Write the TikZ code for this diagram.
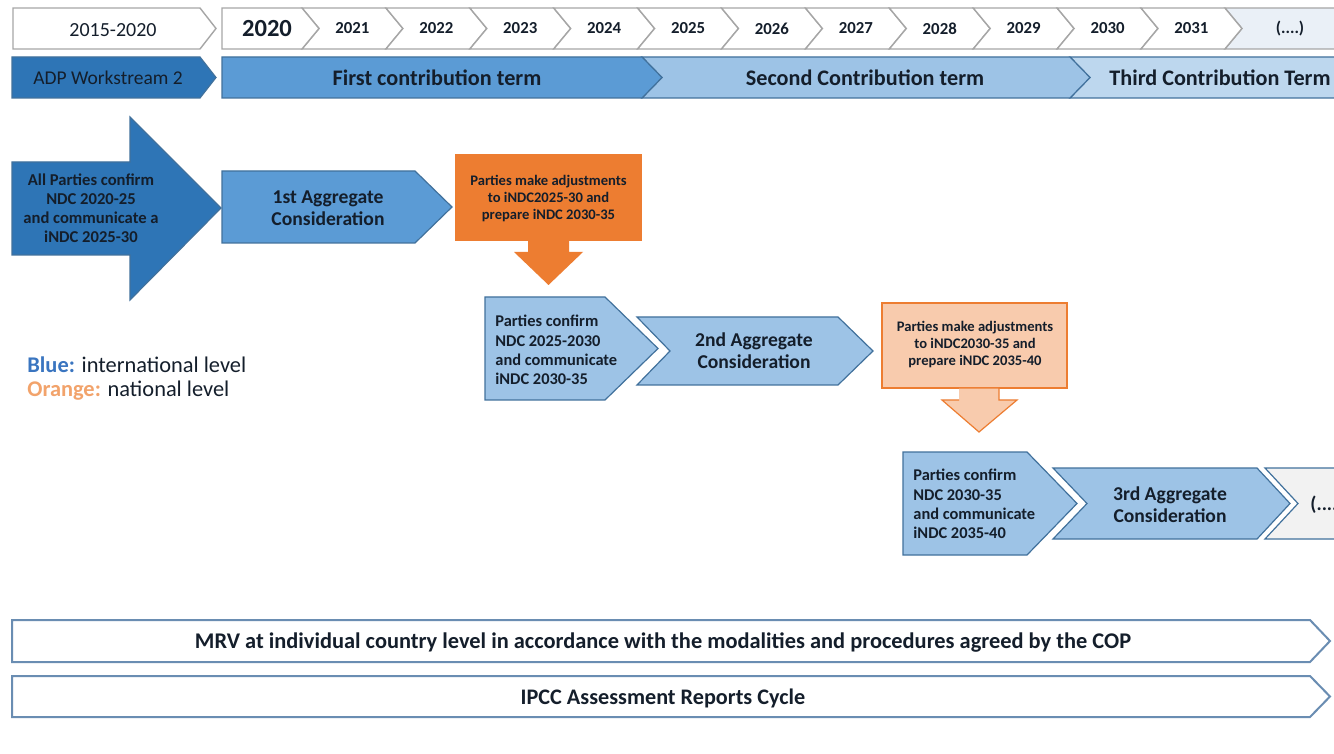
\documentclass[tikz,border=0pt]{standalone}
\usepackage{fontspec}
\setmainfont{Carlito}
\usetikzlibrary{positioning}

\definecolor{adpblue}{HTML}{2E75B6}
\definecolor{termblue}{HTML}{5B9BD5}
\definecolor{lightblue}{HTML}{9DC3E6}
\definecolor{paleblue}{HTML}{BDD7EE}
\definecolor{edgeblue}{HTML}{41719C}
\definecolor{ndcorange}{HTML}{ED7D31}
\definecolor{paleorange}{HTML}{F8CBAD}
\definecolor{legorange}{HTML}{F2A36B}
\definecolor{legblue}{HTML}{3A75C0}
\definecolor{yearline}{HTML}{A6A6A6}
\definecolor{moregrey}{HTML}{F2F2F2}
\definecolor{moreblue}{HTML}{EAF0F7}
\definecolor{mrvline}{HTML}{6A8DB2}
\definecolor{ink}{HTML}{141E2B}

% chevron: style, left x, right x, top y, bottom y, tip depth, notch depth
\newcommand{\chev}[7]{%
  \path[#1] (#2,#4) -- (#3,#4) -- ({#3+#6},{(#4+#5)/2}) -- (#3,#5)
    -- (#2,#5) -- ({#2+#7},{(#4+#5)/2}) -- cycle;}
\newcommand{\fs}[2]{\fontsize{#1}{#2}\selectfont}

\begin{document}
\begin{tikzpicture}[x=0.5pt,y=-0.5pt,line join=miter,
    year/.style={fill=white,draw=yearline,line width=0.7pt},
    term/.style={draw=edgeblue,line width=0.6pt},
    stage/.style={draw=edgeblue,line width=0.6pt},
    natl/.style={draw=ndcorange,line width=0.6pt},
    cycle box/.style={fill=white,draw=mrvline,line width=1pt},
    txt/.style={text=ink,inner sep=0pt,align=center},
    yeartxt/.style={txt,font=\bfseries\fs{8.4}{10}},
    termtxt/.style={txt,font=\bfseries\fs{11.1}{13}},
    aggtxt/.style={txt,font=\bfseries\fs{9.8}{11}},
    ndctxt/.style={txt,align=left,font=\bfseries\fs{8.2}{9.6}},
    adjtxt/.style={txt,font=\bfseries\fs{7.3}{8.5}}]
\useasboundingbox (0,0) rectangle (1334,754);
\fill[white] (0,0) rectangle (1334,754);
\clip (0,0) rectangle (1334,754);

% years
\chev{year}{13}{200}{8}{49}{16}{0}
\node[txt,font=\fs{10}{12}] (pre) at (113,30) {2015-2020};
\chev{year,fill=moreblue}{1224.9}{1420}{8}{49}{17}{17}
\node[yeartxt] (ymore) at (1290,28.5) {(....)};
\foreach \yr [count=\k] in {2021,...,2031} {
  \pgfmathsetmacro\xa{302+83.9*(\k-1)}
  \pgfmathsetmacro\xb{302+83.9*\k}
  \chev{year}{\xa}{\xb}{8}{49}{17}{17}
  \node[yeartxt] (y\yr) at ({(\xa+\xb)/2+8.5},28.5) {\yr};
}
\chev{year}{222}{302}{8}{49}{17}{0}
\node[txt,font=\bfseries\fs{12.3}{14}] (y2020) at (267,28.5) {2020};

% contribution terms
\chev{term,fill=adpblue}{12}{200}{57}{98}{16}{0}
\node[txt,font=\fs{9.75}{12}] (adp) at (108,78) {ADP Workstream 2};
\chev{term,fill=paleblue}{1070}{1420}{57}{98}{20}{20}
\chev{term,fill=lightblue}{642}{1070}{57}{98}{20}{20}
\chev{term,fill=termblue}{222}{642}{57}{98}{20}{0}
\node[termtxt] (term1) at (437,78) {First contribution term};
\node[termtxt] (term2) at (865,78) {Second Contribution term};
\node[termtxt] (term3) at (1220,78) {Third Contribution Term};

% first cycle
\path[fill=adpblue,draw=edgeblue,line width=0.6pt] (12,162) -- (130,162) -- (130,117)
  -- (221,208) -- (130,300) -- (130,255) -- (12,255) -- cycle;
\node[txt,font=\bfseries\fs{8.3}{9.5}] (all) at (91,208)
  {All Parties confirm\\NDC 2020-25\\and communicate a\\iNDC 2025-30};
\chev{stage,fill=termblue}{222}{415}{171}{243}{37}{0}
\node[aggtxt] (agg1) at (328,208) {1st Aggregate\\Consideration};
\path[natl,fill=ndcorange] (456,155) rectangle (641,240);
\node[adjtxt] (adj1) at (548.5,199) {Parties make adjustments\\to iNDC2025-30 and\\prepare iNDC 2030-35};
\path[fill=ndcorange] (528,239) -- (569,239) -- (569,252) -- (583,252) -- (548.5,285)
  -- (514,252) -- (528,252) -- cycle;

% second cycle
\chev{stage,fill=lightblue}{485}{605}{297}{400}{53}{0}
\node[ndctxt,anchor=west] (ndc2) at (495,350)
  {Parties confirm\\NDC 2025-2030\\and communicate\\iNDC 2030-35};
\chev{stage,fill=lightblue}{637}{838}{317}{385}{35}{33}
\node[aggtxt] (agg2) at (754,351) {2nd Aggregate\\Consideration};
\path[natl,fill=paleorange] (882,303) rectangle (1067,388);
\node[adjtxt] (adj2) at (975,345) {Parties make adjustments\\to iNDC2030-35 and\\prepare iNDC 2035-40};
\path[fill=paleorange,draw=ndcorange,line width=0.6pt] (959,388) -- (999,388) -- (999,400)
  -- (1017,400) -- (979,432) -- (942,400) -- (959,400);

% third cycle
\chev{stage,fill=lightblue}{903}{1027}{452}{555}{50}{0}
\node[ndctxt,anchor=west] (ndc3) at (913,504)
  {Parties confirm\\NDC 2030-35\\and communicate\\iNDC 2035-40};
\chev{stage,fill=lightblue}{1053}{1257}{468}{539}{33}{34}
\node[aggtxt] (agg3) at (1170,505) {3rd Aggregate\\Consideration};
\chev{stage,fill=moregrey}{1265}{1420}{468}{539}{33}{33}
\node[aggtxt,anchor=west] (aggmore) at (1310,505) {(....)};

% legend
\node[txt,anchor=west,font=\fs{11.2}{13}] (legb) at (27,365)
  {\textcolor{legblue}{\bfseries Blue:} international level};
\node[txt,anchor=west,font=\fs{11.2}{13}] (lego) at (27,391)
  {\textcolor{legorange}{\bfseries Orange:} national level};

% cross-cutting processes
\chev{cycle box}{12}{1310}{620}{662}{20}{0}
\node[txt,font=\bfseries\fs{11.2}{13}] (mrv) at (663,643)
  {MRV at individual country level in accordance with the modalities and procedures agreed by the COP};
\chev{cycle box}{12}{1310}{676}{717}{20}{0}
\node[txt,font=\bfseries\fs{11.1}{13}] (ipcc) at (663,698) {IPCC Assessment Reports Cycle};
\end{tikzpicture}
\end{document}
